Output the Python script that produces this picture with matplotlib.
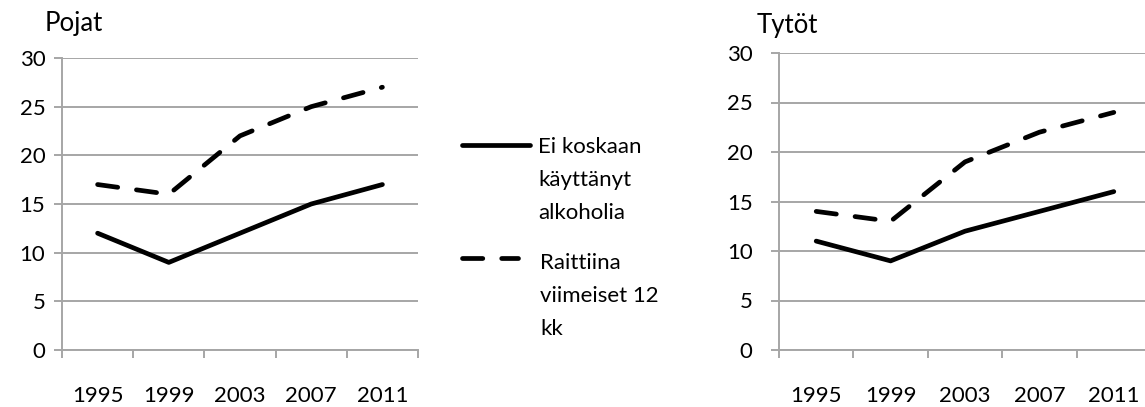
import matplotlib.pyplot as plt
from matplotlib.lines import Line2D
from matplotlib.ticker import FixedLocator, NullFormatter

plt.rcParams['font.family'] = ['Lato', 'DejaVu Sans']

years = ['1995', '1999', '2003', '2007', '2011']
boys_never = [12, 9, 12, 15, 17]
boys_abstain = [17, 16, 22, 25, 27]
girls_never = [11, 9, 12, 14, 16]
girls_abstain = [14, 13, 19, 22, 24]

W, H = 1145, 407
GRID = '#a6a6a6'
LW = 3.4
FS = 16
DASH = (4.3, 4.0)

fig = plt.figure(figsize=(W / 100, H / 100), dpi=100)


def px(left, top, right, bottom):
    return [left / W, (H - bottom) / H, (right - left) / W, (bottom - top) / H]


def panel(rect, never, abstain, title, title_xy, ypad):
    ax = fig.add_axes(rect)
    x = range(len(years))
    ax.plot(x, never, color='black', lw=LW, solid_capstyle='round',
            solid_joinstyle='round')
    ax.plot(x, abstain, color='black', lw=LW, dashes=DASH,
            dash_capstyle='round')
    ax.set_xlim(-0.5, len(years) - 0.5)
    ax.set_ylim(0, 30)
    ax.set_yticks(range(0, 31, 5))
    ax.yaxis.grid(True, color=GRID, lw=1.4)
    ax.set_axisbelow(True)
    for s in ['top', 'right']:
        ax.spines[s].set_visible(False)
    for s in ['left', 'bottom']:
        ax.spines[s].set_color(GRID)
        ax.spines[s].set_linewidth(1.4)
    ax.xaxis.set_major_locator(FixedLocator([i - 0.5 for i in range(len(years) + 1)]))
    ax.xaxis.set_major_formatter(NullFormatter())
    ax.xaxis.set_minor_locator(FixedLocator(list(x)))
    ax.set_xticklabels(years, minor=True)
    ax.tick_params(axis='x', which='major', length=6, width=1.4, color=GRID)
    ax.tick_params(axis='x', which='minor', length=0, pad=26, labelsize=FS)
    ax.tick_params(axis='y', length=6, width=1.4, color=GRID, pad=ypad,
                   labelsize=FS)
    fig.text(title_xy[0] / W, 1 - title_xy[1] / H, title, fontsize=18.5,
             ha='left', va='center')
    return ax


panel(px(62, 58, 418, 350), boys_never, boys_abstain, 'Pojat', (45, 23), 6)
panel(px(779, 53, 1151, 350), girls_never, girls_abstain, 'Tytöt', (757, 25), 13)

# legend
fig.add_artist(Line2D([462 / W, 530 / W], [1 - 145 / H, 1 - 145 / H],
                      color='black', lw=LW, solid_capstyle='round'))
fig.add_artist(Line2D([462 / W, 518 / W], [1 - 258 / H, 1 - 258 / H],
                      color='black', lw=LW, dashes=DASH,
                      dash_capstyle='round'))
never_lines = ['Ei koskaan', 'käyttänyt', 'alkoholia']
abstain_lines = ['Raittiina', 'viimeiset 12', 'kk']
for i, t in enumerate(never_lines):
    fig.text(538 / W, 1 - (147 + 33 * i) / H, t, fontsize=FS,
             ha='left', va='center')
for i, t in enumerate(abstain_lines):
    fig.text(540 / W, 1 - (263 + 33 * i) / H, t, fontsize=FS,
             ha='left', va='center')

fig.savefig('out.png', dpi=100, facecolor='white')
